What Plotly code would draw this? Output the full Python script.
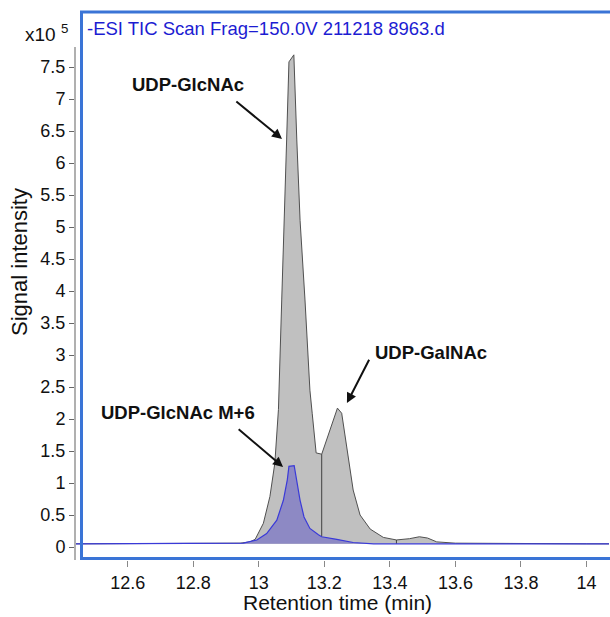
import numpy as np
import plotly.graph_objects as go

# ---- data (retention time in min, intensity in x10^5) ----
tic_time = [12.442, 12.60, 12.80, 12.943, 12.973, 12.989, 13.014, 13.034, 13.049, 13.060,
            13.070, 13.078, 13.085, 13.092, 13.107, 13.116, 13.126, 13.141, 13.156,
            13.163, 13.175, 13.192, 13.207, 13.227, 13.240, 13.253, 13.268, 13.288,
            13.309, 13.340, 13.380, 13.420, 13.460, 13.490, 13.515, 13.543, 13.60,
            13.80, 14.00, 14.069]
tic_vals = [0.05, 0.05, 0.05, 0.06, 0.08, 0.12, 0.37, 0.79, 1.31, 2.15,
            3.86, 5.42, 6.36, 7.58, 7.69, 6.36, 5.10, 3.86, 2.45,
            2.09, 1.47, 1.45, 1.67, 1.98, 2.17, 2.09, 1.57, 0.89,
            0.50, 0.28, 0.15, 0.11, 0.13, 0.16, 0.14, 0.08, 0.06,
            0.05, 0.05, 0.05]

m6_time = [12.442, 12.80, 12.953, 12.994, 13.024, 13.055, 13.075, 13.087, 13.092, 13.108,
           13.116, 13.126, 13.138, 13.156, 13.182, 13.192, 13.238, 13.288, 13.35,
           13.60, 14.069]
m6_vals = [0.05, 0.05, 0.06, 0.11, 0.21, 0.42, 0.73, 1.05, 1.26, 1.27,
           1.05, 0.73, 0.47, 0.29, 0.19, 0.16, 0.12, 0.07, 0.05,
           0.05, 0.05]

divider_times = [13.192, 13.420]

x_ticks = [12.6, 12.8, 13.0, 13.2, 13.4, 13.6, 13.8, 14.0]
x_tick_labels = ["12.6", "12.8", "13", "13.2", "13.4", "13.6", "13.8", "14"]
y_ticks = [0, 0.5, 1, 1.5, 2, 2.5, 3, 3.5, 4, 4.5, 5, 5.5, 6, 6.5, 7, 7.5]
y_tick_labels = ["0", "0.5", "1", "1.5", "2", "2.5", "3", "3.5", "4", "4.5",
                 "5", "5.5", "6", "6.5", "7", "7.5"]

peak_labels = ["UDP-GlcNAc", "UDP-GalNAc", "UDP-GlcNAc M+6"]

# ---- layout geometry (pixels) ----
W, H = 610, 617
L, R, T, B = 76, 609, 47, 560
PW, PH = R - L, B - T


def px(xp):
    return (xp - L) / PW


def py(yp):
    return (B - yp) / PH


FONT = "Liberation Sans, Arial, sans-serif"

fig = go.Figure()

# main TIC trace
fig.add_trace(go.Scatter(
    x=tic_time, y=tic_vals, mode="lines", fill="toself",
    fillcolor="#c0c0c0", line=dict(color="#505050", width=1),
    hoverinfo="skip", showlegend=False))

# divider lines (integration splits) from the TIC data
for t in divider_times:
    h = float(np.interp(t, tic_time, tic_vals))
    b = float(np.interp(t, m6_time, m6_vals))
    fig.add_trace(go.Scatter(x=[t, t], y=[b, h], mode="lines",
                             line=dict(color="#404040", width=1),
                             hoverinfo="skip", showlegend=False))

# M+6 trace
fig.add_trace(go.Scatter(
    x=m6_time, y=m6_vals, mode="lines", fill="toself",
    fillcolor="#8d89c4", line=dict(color="#3a3ad8", width=1.2),
    hoverinfo="skip", showlegend=False))

x0 = 12.6 - (127.7 - L) / 327.7
x1 = 14.0 + (R - 586.5) / 327.7
ypp = 64.0
y0 = -(B - 547) / ypp
y1 = y0 + PH / ypp

fig.update_xaxes(range=[x0, x1], tickvals=x_ticks, ticktext=x_tick_labels,
                 showgrid=False, zeroline=False, showline=False,
                 ticks="outside", ticklen=6, tickwidth=1, tickcolor="#888888",
                 tickfont=dict(family=FONT, size=18, color="#111111"))
fig.update_yaxes(range=[y0, y1], tickvals=y_ticks, ticktext=y_tick_labels,
                 showgrid=False, zeroline=False, showline=True,
                 linecolor="#b0b0b0", linewidth=2,
                 ticks="outside", ticklen=5, tickwidth=1, tickcolor="#666666",
                 tickfont=dict(family=FONT, size=18, color="#111111"))

# blue frame (right side runs past the image edge)
fig.add_shape(type="rect", xref="paper", yref="paper",
              x0=px(81.5), x1=px(614), y0=py(558.5), y1=py(12),
              line=dict(color="#3a74d6", width=3), fillcolor="rgba(0,0,0,0)",
              layer="above")

ann = []
ann.append(dict(x=px(85), y=py(29), xref="paper", yref="paper", xanchor="left",
                yanchor="middle", showarrow=False,
                text="-ESI TIC Scan Frag=150.0V 211218 8963.d",
                font=dict(family=FONT, size=18.5, color="#1c1cd2")))
ann.append(dict(x=px(23), y=py(33), xref="paper", yref="paper", xanchor="left",
                yanchor="middle", showarrow=False, text="x10 <sup>5</sup>",
                font=dict(family=FONT, size=19, color="#111111")))
ann.append(dict(x=px(19), y=py(262), xref="paper", yref="paper", xanchor="center",
                yanchor="middle", showarrow=False, text="Signal intensity",
                textangle=-90, font=dict(family=FONT, size=22, color="#111111")))
ann.append(dict(x=px(337), y=py(602), xref="paper", yref="paper", xanchor="center",
                yanchor="middle", showarrow=False, text="Retention time (min)",
                font=dict(family=FONT, size=21, color="#111111")))

# peak labels
label_pos = [(188, 84), (431, 352), (178, 412)]
for txt, (lx, ly) in zip(peak_labels, label_pos):
    ann.append(dict(x=px(lx), y=py(ly), xref="paper", yref="paper",
                    xanchor="center", yanchor="middle", showarrow=False,
                    text="<b>" + txt + "</b>",
                    font=dict(family=FONT, size=18.5, color="#111111")))

# arrows (head and tail in data coordinates)
arrows = [((13.071, 6.375), (12.927, 6.98)),
          ((13.269, 2.25), (13.339, 2.95)),
          ((13.074, 1.25), (12.934, 1.86))]
for (hx, hy), (tx, ty) in arrows:
    ann.append(dict(x=hx, y=hy, ax=tx, ay=ty, xref="x", yref="y",
                    axref="x", ayref="y", showarrow=True, arrowhead=2,
                    arrowsize=1, arrowwidth=2, arrowcolor="#111111", text=""))

fig.update_layout(width=W, height=H, margin=dict(l=L, r=W - R, t=T, b=H - B),
                  paper_bgcolor="white", plot_bgcolor="white",
                  annotations=ann, font=dict(family=FONT))

fig.write_html("out.html")
